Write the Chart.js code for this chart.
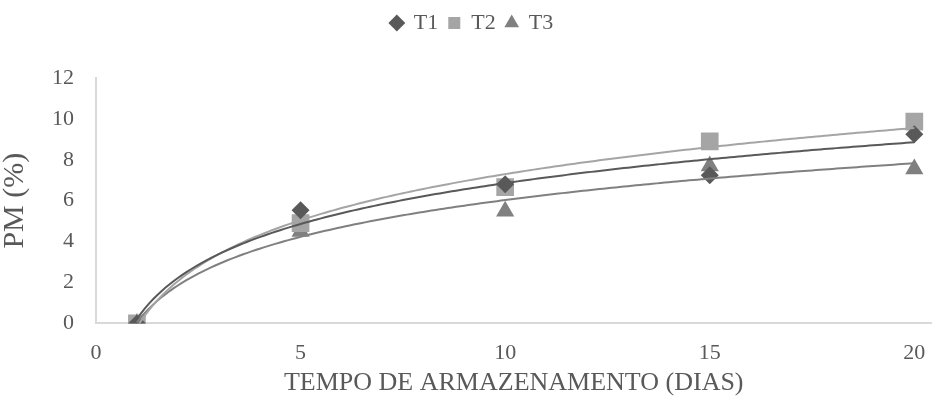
<!DOCTYPE html>
<html>
<head>
<meta charset="utf-8">
<script src="https://cdn.jsdelivr.net/npm/chart.js@4"></script>
<style>
  html, body { margin: 0; padding: 0; background: #fff; }
  #wrap { width: 944px; height: 405px; }
</style>
</head>
<body>
<div id="wrap"><canvas id="pmChart" width="944" height="405"></canvas></div>
<script>
const days = [1, 5, 10, 15, 20];
const t1 = [0, 5.53, 6.8, 7.25, 9.25];
const t2 = [0, 4.9, 6.66, 8.9, 9.87];
const t3 = [0, 4.5, 5.48, 7.7, 7.55];
const xTicks = [0, 5, 10, 15, 20];

const seriesNames = ["T1", "T2", "T3"];
const seriesColors = ["#595959", "#a5a5a5", "#808080"];
const seriesMarkers = ["rectRot", "rect", "triangle"];
const markerSizes = [9, 12.5, 10.5];

// logarithmic trendline (y = a*ln(x) + b), fitted from the points
function logFit(xs, ys) {
  const lx = xs.map(x => Math.log(x));
  const n = xs.length;
  const mx = lx.reduce((s, v) => s + v, 0) / n;
  const my = ys.reduce((s, v) => s + v, 0) / n;
  let num = 0, den = 0;
  for (let i = 0; i < n; i++) {
    num += (lx[i] - mx) * (ys[i] - my);
    den += (lx[i] - mx) * (lx[i] - mx);
  }
  const a = num / den;
  const b = my - a * mx;
  const pts = [];
  for (let x = 1; x <= 20.001; x += 0.1) pts.push({ x: x, y: a * Math.log(x) + b });
  return pts;
}

const allSeries = [t1, t2, t3];
const pointSets = allSeries.map((vals, i) => ({
  label: seriesNames[i],
  data: days.map((d, j) => ({ x: d, y: vals[j] })),
  showLine: false,
  pointStyle: seriesMarkers[i],
  pointRadius: markerSizes[i],
  pointBackgroundColor: seriesColors[i],
  pointBorderColor: seriesColors[i],
  pointBorderWidth: 0,
  backgroundColor: seriesColors[i],
  borderColor: seriesColors[i],
  order: 1,
}));
const trendSets = allSeries.map((vals, i) => ({
  label: "trend " + seriesNames[i],
  data: logFit(days, vals),
  showLine: true,
  pointRadius: 0,
  borderColor: seriesColors[i],
  borderWidth: 2,
  fill: false,
  order: 0,
}));

const serif = "'Liberation Serif', 'DejaVu Serif', serif";

// extra space under the legend
const legendGap = {
  id: "legendGap",
  beforeInit(chart) {
    const origFit = chart.legend.fit;
    chart.legend.fit = function () {
      origFit.bind(chart.legend)();
      this.height += 34;
    };
  },
};

new Chart(document.getElementById("pmChart").getContext("2d"), {
  type: "scatter",
  data: { datasets: [...pointSets, ...trendSets] },
  plugins: [legendGap],
  options: {
    responsive: false,
    animation: false,
    layout: { padding: { left: 0, right: 0, top: 2, bottom: 6 } },
    plugins: {
      tooltip: { enabled: false },
      legend: {
        position: "top",
        labels: {
          filter: item => !item.text.startsWith("trend"),
          usePointStyle: true,
          boxWidth: 12,
          boxHeight: 12,
          padding: 10,
          color: "#595959",
          font: { family: serif, size: 22 },
        },
      },
    },
    scales: {
      x: {
        type: "linear",
        min: 0,
        max: 20.42,
        afterBuildTicks: axis => { axis.ticks = xTicks.map(v => ({ value: v })); },
        grid: { display: false, drawTicks: false },
        border: { color: "#d9d9d9", width: 2 },
        ticks: { color: "#595959", padding: 17, font: { family: serif, size: 22 } },
        title: { display: true, text: "TEMPO DE ARMAZENAMENTO (DIAS)", color: "#595959", font: { family: serif, size: 26 }, padding: { top: -16, bottom: 0 } },
      },
      y: {
        min: 0,
        max: 12,
        grid: { display: false, drawTicks: false },
        border: { color: "#d9d9d9", width: 2 },
        ticks: { stepSize: 2, color: "#595959", padding: 22, font: { family: serif, size: 22 } },
        title: { display: true, text: "PM (%)", color: "#595959", font: { family: serif, size: 30, lineHeight: 1 }, padding: { top: 0, bottom: 0 } },
      },
    },
  },
});
</script>
</body>
</html>
